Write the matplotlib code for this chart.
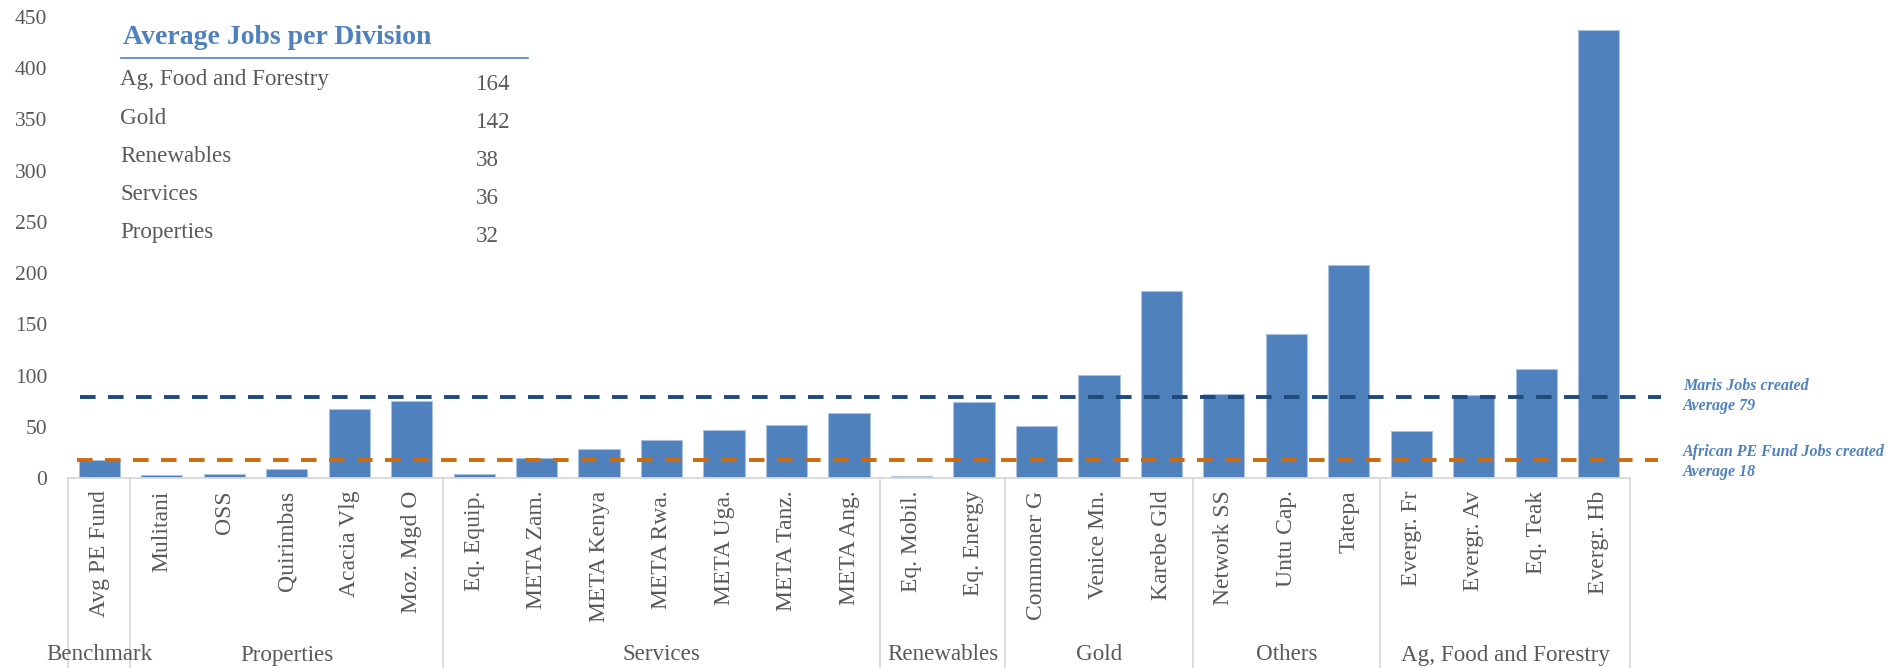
import matplotlib
matplotlib.use('Agg')
import matplotlib.pyplot as plt
from matplotlib.lines import Line2D
import matplotlib.transforms as mtransforms

# ---------------- data ----------------
categories = ['Avg PE Fund', 'Mulitani', 'OSS', 'Quirimbas', 'Acacia Vlg', 'Moz. Mgd O',
              'Eq. Equip.', 'META Zam.', 'META Kenya', 'META Rwa.', 'META Uga.', 'META Tanz.', 'META Ang.',
              'Eq. Mobil.', 'Eq. Energy',
              'Commoner G', 'Venice Mn.', 'Karebe Gld',
              'Network SS', 'Untu Cap.', 'Tatepa',
              'Evergr. Fr', 'Evergr. Av', 'Eq. Teak', 'Evergr. Hb']
jobs = [18, 3, 4, 9, 67, 75,
        4, 20, 28, 37, 47, 52, 63,
        2, 74,
        51, 101, 183,
        82, 141, 208,
        46, 81, 106, 437]
groups = ['Benchmark', 'Properties', 'Services', 'Renewables', 'Gold', 'Others', 'Ag, Food and Forestry']
group_sizes = [1, 5, 7, 2, 3, 3, 4]
maris_avg = 79
pe_avg = 18
maris_label = ['Maris Jobs created', 'Average 79']
pe_label = ['African PE Fund Jobs created', 'Average 18']
table_title = 'Average Jobs per Division'
table_labels = ['Ag, Food and Forestry', 'Gold', 'Renewables', 'Services', 'Properties']
table_values = [164, 142, 38, 36, 32]
yticks = [0, 50, 100, 150, 200, 250, 300, 350, 400, 450]

# ---------------- style ----------------
plt.rcParams['font.family'] = ['Liberation Serif', 'DejaVu Serif']
BAR = '#4F81BD'
GRID = '#D9D9D9'
TXT = '#595959'
NAVY = '#1F4A7C'
ORANGE = '#CF6A0C'
LBL = '#4F81BD'

W, H = 1896, 668
fig = plt.figure(figsize=(W / 100, H / 100), dpi=100)
ax_l, ax_r, ax_b, ax_t = 68, 1630, 478, 17
ax = fig.add_axes([ax_l / W, 1 - ax_b / H, (ax_r - ax_l) / W, (ax_b - ax_t) / H])

x = list(range(len(categories)))
ax.bar(x, jobs, width=0.66, color=BAR, edgecolor='#A9C2E2', linewidth=0.8, zorder=2)

ax.set_xlim(-0.5, len(categories) - 0.5)
ax.set_ylim(0, 450)
ax.set_yticks(yticks)
ax.tick_params(axis='y', length=0, pad=15, labelsize=15.5, labelcolor=TXT)
ax.set_xticks(x)
ax.set_xticklabels(categories, rotation=90, va='top', ha='center')
ax.tick_params(axis='x', length=0, pad=9, labelsize=17, labelcolor=TXT)
for s in ['left', 'top', 'right']:
    ax.spines[s].set_visible(False)
ax.spines['bottom'].set_color(GRID)
ax.spines['bottom'].set_linewidth(1.3)

# average lines
ax.plot([-0.3, 25.0], [maris_avg, maris_avg], color=NAVY, lw=2.8,
        ls=(0, (4.0, 3.2)), clip_on=False, zorder=3)
ax.plot([-0.35, 24.95], [pe_avg, pe_avg], color=ORANGE, lw=2.8,
        ls=(0, (4.0, 3.2)), clip_on=False, zorder=3)

# multi-level category axis
trans = mtransforms.blended_transform_factory(ax.transData, ax.transAxes)
bottom_frac = -(H - ax_b) / (ax_b - ax_t)
bounds = [-0.5]
for g in group_sizes:
    bounds.append(bounds[-1] + g)
for b in bounds:
    ax.plot([b, b], [0, bottom_frac], transform=trans, color=GRID, lw=1.3, clip_on=False)
label_y = -(655 - ax_b) / (ax_b - ax_t)
for i, name in enumerate(groups):
    c = (bounds[i] + bounds[i + 1]) / 2
    ax.text(c, label_y, name, transform=trans, ha='center', va='center',
            fontsize=16.6, color=TXT)

# series annotations
def ftext(px, py, s, **kw):
    fig.text(px / W, 1 - py / H, s, **kw)

for txt, yy in zip(maris_label + pe_label, [386, 406, 452, 472]):
    ftext(1683, yy, txt, fontsize=11.5, color=LBL, fontweight='bold',
          fontstyle='italic', va='center')

# inset table
ftext(123, 37, table_title, fontsize=20, color=LBL, fontweight='bold', va='center')
fig.add_artist(Line2D([121 / W, 528 / W], [1 - 58 / H, 1 - 58 / H], color=LBL, lw=1.2))
row_y = [80, 118, 156, 194, 232]
for lab, val, yy in zip(table_labels, table_values, row_y):
    ftext(120, yy, lab, fontsize=16.6, color=TXT, va='center')
    ftext(476, yy + 5, str(val), fontsize=16.6, color=TXT, va='center')

fig.savefig('out.png', dpi=100)
